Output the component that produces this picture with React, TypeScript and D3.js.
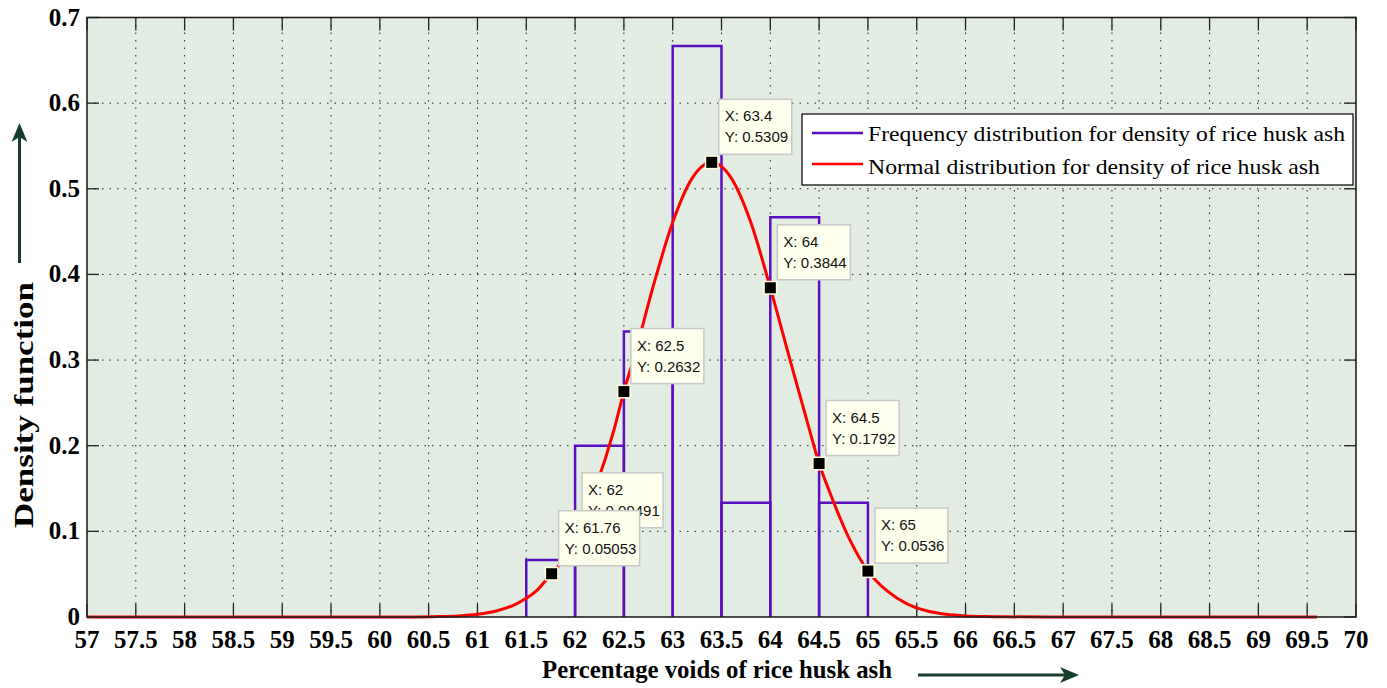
import React from "react";
import * as d3 from "d3";

const W = 1387;
const H = 688;

// Histogram (frequency distribution) bins and densities
const binEdges = [61.5, 62, 62.5, 63, 63.5, 64, 64.5, 65];
const binDensity = [0.0667, 0.2, 0.3333, 0.6667, 0.1333, 0.4667, 0.1333];

// Normal distribution curve points
const curveX = [57, 58, 59, 60, 60.4, 60.6, 60.8, 61.0, 61.2, 61.4, 61.6, 61.76, 61.8, 62.0, 62.2, 62.4, 62.5, 62.6, 62.8, 63.0, 63.2, 63.4, 63.6, 63.8, 64.0, 64.2, 64.4, 64.5, 64.6, 64.8, 65.0, 65.2, 65.4, 65.6, 65.8, 66.0, 66.2, 66.4, 67, 68, 69, 69.6];
const curveY = [0, 0, 0, 0, 0.0001, 0.0005, 0.0013, 0.0032, 0.0073, 0.0154, 0.0301, 0.05053, 0.055, 0.09491, 0.1483, 0.219, 0.2632, 0.3012, 0.386, 0.4608, 0.5124, 0.5309, 0.5124, 0.4608, 0.3844, 0.3012, 0.219, 0.1792, 0.1483, 0.0936, 0.0536, 0.0301, 0.0154, 0.0073, 0.0032, 0.0013, 0.0005, 0.0002, 0, 0, 0, 0];

// Data tips (drawn in this order)
const tipX = [62, 61.76, 62.5, 63.4, 64, 64.5, 65];
const tipY = [0.09491, 0.05053, 0.2632, 0.5309, 0.3844, 0.1792, 0.0536];
const tipXLabel = ["62", "61.76", "62.5", "63.4", "64", "64.5", "65"];
const tipYLabel = ["0.09491", "0.05053", "0.2632", "0.5309", "0.3844", "0.1792", "0.0536"];

const xTickValues = [57, 57.5, 58, 58.5, 59, 59.5, 60, 60.5, 61, 61.5, 62, 62.5, 63, 63.5, 64, 64.5, 65, 65.5, 66, 66.5, 67, 67.5, 68, 68.5, 69, 69.5, 70];
const xTickLabels = ["57", "57.5", "58", "58.5", "59", "59.5", "60", "60.5", "61", "61.5", "62", "62.5", "63", "63.5", "64", "64.5", "65", "65.5", "66", "66.5", "67", "67.5", "68", "68.5", "69", "69.5", "70"];
const yTickValues = [0, 0.1, 0.2, 0.3, 0.4, 0.5, 0.6, 0.7];
const yTickLabels = ["0", "0.1", "0.2", "0.3", "0.4", "0.5", "0.6", "0.7"];

const legendLabels = [
  "Frequency distribution for density of rice husk ash",
  "Normal distribution for density of rice husk ash",
];
const legendColors = ["#5c0fbe", "#ff0000"];

const PL = 87, PR = 1356, PT = 17.5, PB = 617;

export default function App() {
  const x = d3.scaleLinear().domain([57, 70]).range([PL, PR]);
  const y = d3.scaleLinear().domain([0, 0.7]).range([PB, PT]);

  const line = d3
    .line<number>()
    .x((_, i) => x(curveX[i]))
    .y((d) => y(d))
    .curve(d3.curveMonotoneX);

  const serif = "'Liberation Serif', 'Times New Roman', serif";
  const sans = "'Liberation Sans', Arial, sans-serif";
  const arrowColor = "#173d2c";

  return (
    <svg
      width={W}
      height={H}
      style={{ position: "absolute", left: 0, top: 0, background: "#fff" }}
    >
      <rect x={PL} y={PT} width={PR - PL} height={PB - PT} fill="#e2ece2" />
      {/* grid */}
      {xTickValues.slice(1, -1).map((v, i) => (
        <line key={"gx" + i} x1={x(v)} x2={x(v)} y1={PT} y2={PB} stroke="#222" strokeWidth={1} strokeDasharray="1.5,6" />
      ))}
      {yTickValues.slice(1, -1).map((v, i) => (
        <line key={"gy" + i} x1={PL} x2={PR} y1={y(v)} y2={y(v)} stroke="#222" strokeWidth={1} strokeDasharray="1.5,6" />
      ))}
      {/* ticks */}
      {xTickValues.map((v, i) => (
        <g key={"tx" + i}>
          <line x1={x(v)} x2={x(v)} y1={PB} y2={PB - 13} stroke="#222" strokeWidth={1.3} />
          <line x1={x(v)} x2={x(v)} y1={PT} y2={PT + 13} stroke="#222" strokeWidth={1.3} />
          <text x={x(v)} y={648} textAnchor="middle" fontFamily={serif} fontWeight="bold" fontSize={25} fill="#000">
            {xTickLabels[i]}
          </text>
        </g>
      ))}
      {yTickValues.map((v, i) => (
        <g key={"ty" + i}>
          <line x1={PL} x2={PL + 12} y1={y(v)} y2={y(v)} stroke="#222" strokeWidth={1.3} />
          <line x1={PR} x2={PR - 12} y1={y(v)} y2={y(v)} stroke="#222" strokeWidth={1.3} />
          <text x={80} y={y(v) + 8} textAnchor="end" fontFamily={serif} fontWeight="bold" fontSize={25} fill="#000">
            {yTickLabels[i]}
          </text>
        </g>
      ))}
      {/* histogram */}
      {binDensity.map((d, i) => (
        <path
          key={"b" + i}
          d={`M${x(binEdges[i])},${y(0)}V${y(d)}H${x(binEdges[i + 1])}V${y(0)}`}
          fill="none"
          stroke={legendColors[0]}
          strokeWidth={2.5}
        />
      ))}
      {/* normal curve */}
      <path d={line(curveY) || ""} fill="none" stroke={legendColors[1]} strokeWidth={3} />
      {/* axes box */}
      <rect x={PL} y={PT} width={PR - PL} height={PB - PT} fill="none" stroke="#222" strokeWidth={1.6} />
      {/* legend */}
      <rect x={802} y={114} width={551} height={71} fill="#fff" stroke="#000" strokeWidth={1.2} />
      {legendLabels.map((t, i) => (
        <g key={"lg" + i}>
          <line x1={812} x2={863} y1={133 + i * 31} y2={133 + i * 31} stroke={legendColors[i]} strokeWidth={2.5} />
          <text x={868} y={141 + i * 33} fontFamily={serif} fontSize={22} fill="#000" textLength={i === 0 ? 477 : 452} lengthAdjust="spacingAndGlyphs">
            {t}
          </text>
        </g>
      ))}
      {/* data tips */}
      {tipX.map((tx, i) => {
        const px = x(tx);
        const py = y(tipY[i]);
        const bw = tipYLabel[i].length >= 7 ? 81 : 73;
        const bx = px + 7;
        const by = py - 8 - 55;
        return (
          <g key={"tip" + i}>
            <rect x={bx} y={by} width={bw} height={55} fill="#ffffee" stroke="#c8c8c8" strokeWidth={1.5} />
            <text x={bx + 6} y={by + 22} fontFamily={sans} fontSize={15} fill="#111">{"X: " + tipXLabel[i]}</text>
            <text x={bx + 6} y={by + 43} fontFamily={sans} fontSize={15} fill="#111">{"Y: " + tipYLabel[i]}</text>
            <rect x={px - 7} y={py - 7} width={14} height={14} fill="#ffffdd" />
            <rect x={px - 5.5} y={py - 5.5} width={11} height={11} fill="#000" />
          </g>
        );
      })}
      {/* axis labels */}
      <text x={542} y={678} fontFamily={serif} fontWeight="bold" fontSize={26} fill="#000" textLength={350} lengthAdjust="spacingAndGlyphs">
        Percentage voids of rice husk ash
      </text>
      <line x1={918} x2={1066} y1={675} y2={675} stroke={arrowColor} strokeWidth={3} />
      <path d="M1060,667 L1079,675 L1060,683 L1065,675 Z" fill={arrowColor} />
      <text
        transform="translate(33,528) rotate(-90)"
        fontFamily={serif}
        fontWeight="bold"
        fontSize={28}
        fill="#000"
        textLength={246}
        lengthAdjust="spacingAndGlyphs"
      >
        Density function
      </text>
      <line x1={19.5} x2={19.5} y1={263} y2={135} stroke={arrowColor} strokeWidth={3} />
      <path d="M11.5,142 L19.5,123 L27.5,142 L19.5,137 Z" fill={arrowColor} />
    </svg>
  );
}
